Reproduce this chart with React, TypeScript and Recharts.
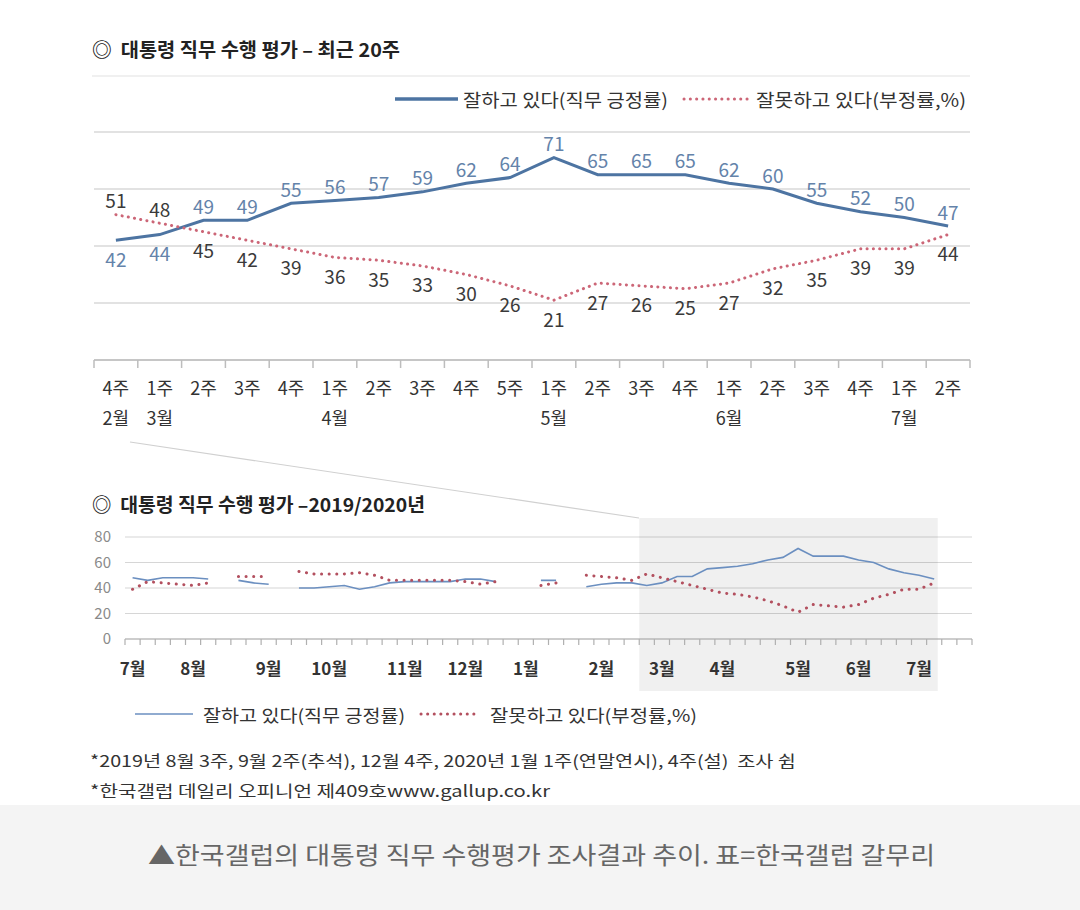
import * as React from 'react';
import {
	CartesianGrid,
	LabelList,
	Line,
	LineChart,
	ReferenceArea,
	XAxis,
	YAxis,
} from 'recharts';

const FONT = "'Noto Sans CJK KR', 'Noto Sans', sans-serif";

// 최근 20주: 2020년 2월 4주 ~ 7월 2주
const recentWeeks = ['4주', '1주', '2주', '3주', '4주', '1주', '2주', '3주', '4주', '5주', '1주', '2주', '3주', '4주', '1주', '2주', '3주', '4주', '1주', '2주'];
const recentMonths = ['2월', '3월', '', '', '', '4월', '', '', '', '', '5월', '', '', '', '6월', '', '', '', '7월', ''];
const approveRecent = [42, 44, 49, 49, 55, 56, 57, 59, 62, 64, 71, 65, 65, 65, 62, 60, 55, 52, 50, 47];
const disapproveRecent = [51, 48, 45, 42, 39, 36, 35, 33, 30, 26, 21, 27, 26, 25, 27, 32, 35, 39, 39, 44];

// 2019년 7월 1주 ~ 2020년 2월 3주, null = 조사 쉼
const approveEarlier = [48, 46, 48, 48, 48, 47, null, 46, 44, 43, null, 40, 40, 41, 42, 39, 41, 44, 45, 45, 45, 45, 47, 47, 45, null, null, 46, 46, null, 41, 43, 44, 44];
const disapproveEarlier = [39, 45, 44, 43, 42, 44, null, 49, 49, 49, null, 53, 51, 51, 51, 52, 50, 46, 46, 46, 46, 46, 45, 43, 45, null, null, 42, 44, null, 50, 49, 48, 46];

// 각 월 1주차의 주 번호
const monthStartWeek = [0, 4, 9, 13, 18, 22, 26, 31, 35, 39, 44, 48, 52];
const monthNames = ['7월', '8월', '9월', '10월', '11월', '12월', '1월', '2월', '3월', '4월', '5월', '6월', '7월'];
const yTicks = [0, 20, 40, 60, 80];

const BLUE = '#4d74a2';
const RED = '#cc6677';
const BLUE_THIN = '#6b8fc0';
const RED_DARK = '#b3505f';

const recentRows = approveRecent.map((v, i) => ({
	x: i + 0.5,
	approve: v,
	disapprove: disapproveRecent[i],
}));

const allApprove = [...approveEarlier, ...approveRecent];
const allDisapprove = [...disapproveEarlier, ...disapproveRecent];
const yearRows = allApprove.map((v, i) => ({
	x: i + 0.5,
	approve: v,
	disapprove: allDisapprove[i],
}));
const WEEKS = 56;

const recentTicks = [
	...Array.from({length: 21}, (_, i) => i),
	...recentWeeks.map((_, i) => i + 0.5),
];
const yearTicks = [
	...Array.from({length: WEEKS + 1}, (_, i) => i),
	...monthStartWeek.map((w) => w + 0.5),
];

function RecentTick({x, y, payload}: any) {
	const v = payload.value;
	if (Number.isInteger(v)) {
		return <line x1={x} x2={x} y1={y} y2={y + 8} stroke="#bdbdbd" strokeWidth={1.5}/>;
	}
	const i = Math.floor(v);
	return (
		<g fontFamily={FONT} fontSize={18} fill="#333" textAnchor="middle">
			<text x={x} y={y + 27} dominantBaseline="central">{recentWeeks[i]}</text>
			{recentMonths[i] ? (
				<text x={x} y={y + 57} dominantBaseline="central">{recentMonths[i]}</text>
			) : null}
		</g>
	);
}

function MonthTick({x, y, payload}: any) {
	const v = payload.value;
	if (Number.isInteger(v)) {
		return <line x1={x} x2={x} y1={y} y2={y + 6} stroke="#b0b0b0" strokeWidth={1.2}/>;
	}
	const k = monthStartWeek.indexOf(v - 0.5);
	return (
		<text x={x} y={y + 28} dominantBaseline="central" textAnchor="middle"
			fontFamily={FONT} fontSize={17} fontWeight={700} fill="#333">
			{monthNames[k]}
		</text>
	);
}

// higher series gets its value above the line, lower one below
function valueLabel(own: number[], other: number[], color: string) {
	return (props: any) => {
		const vb = props.viewBox || {};
		const x = props.x ?? vb.x;
		const y = props.y ?? vb.y;
		const i = props.index;
		const above = own[i] > other[i];
		return (
			<text x={x} y={above ? y - 15 : y + 18} dominantBaseline="central" textAnchor="middle"
				fontFamily={FONT} fontSize={19} fill={color}>
				{props.value}
			</text>
		);
	};
}

function ShadeShape(props: any) {
	const {x, y, width, height} = props;
	return <rect x={x} y={y - 19} width={width - 4} height={height + 71} fill="#000" fillOpacity={0.06}/>;
}

function Overlay() {
	const txt = {fontFamily: FONT, fill: '#333', dominantBaseline: 'central' as const, style: {whiteSpace: 'pre' as const}};
	return (
		<svg width={1080} height={910} style={{position: 'absolute', left: 0, top: 0}}>
			<rect x={0} y={805} width={1080} height={105} fill="#f4f4f4"/>
			<text {...txt} x={92} y={48} fontSize={19} fontWeight={700} fill="#222"
				textLength={308} lengthAdjust="spacingAndGlyphs">◎  대통령 직무 수행 평가 – 최근 20주</text>
			<line x1={92} x2={970} y1={76} y2={76} stroke="#e2e2e2" strokeWidth={1.2}/>

			<line x1={395} x2={458} y1={99} y2={99} stroke={BLUE} strokeWidth={3.5}/>
			<text {...txt} x={463} y={99} fontSize={18} textLength={205} lengthAdjust="spacingAndGlyphs">잘하고 있다(직무 긍정률)</text>
			<line x1={684} x2={748} y1={99} y2={99} stroke={RED} strokeWidth={3} strokeDasharray="0.1 6.2" strokeLinecap="round"/>
			<text {...txt} x={756} y={99} fontSize={18} textLength={210} lengthAdjust="spacingAndGlyphs">잘못하고 있다(부정률,%)</text>

			<line x1={130} y1={442} x2={639} y2={518} stroke="#d0d0d0" strokeWidth={1.2}/>

			<text {...txt} x={92} y={503} fontSize={19} fontWeight={700} fill="#222"
				textLength={333} lengthAdjust="spacingAndGlyphs">◎  대통령 직무 수행 평가 –2019/2020년</text>

			<line x1={135} x2={193} y1={714} y2={714} stroke={BLUE_THIN} strokeWidth={1.6}/>
			<text {...txt} x={203} y={714} fontSize={17} textLength={202} lengthAdjust="spacingAndGlyphs">잘하고 있다(직무 긍정률)</text>
			<line x1={421} x2={480} y1={714} y2={714} stroke={RED_DARK} strokeWidth={3} strokeDasharray="0.1 6.5" strokeLinecap="round"/>
			<text {...txt} x={490} y={714} fontSize={17} textLength={207} lengthAdjust="spacingAndGlyphs">잘못하고 있다(부정률,%)</text>

			<text {...txt} x={90} y={760} fontSize={16} textLength={706} lengthAdjust="spacingAndGlyphs">*2019년 8월 3주, 9월 2주(추석), 12월 4주, 2020년 1월 1주(연말연시), 4주(설)  조사 쉼</text>
			<text {...txt} x={90} y={790} fontSize={16} textLength={460} lengthAdjust="spacingAndGlyphs">*한국갤럽 데일리 오피니언 제409호www.gallup.co.kr</text>

			<text {...txt} x={148} y={853} fontSize={24} fill="#666" textLength={787} lengthAdjust="spacingAndGlyphs">▲한국갤럽의 대통령 직무 수행평가 조사결과 추이. 표=한국갤럽 갈무리</text>
		</svg>
	);
}

function RecentChart() {
	return (
		<LineChart width={1080} height={450} data={recentRows}
			margin={{top: 132, right: 110, bottom: 0, left: 94}}>
			<CartesianGrid vertical={false} stroke="#d8d8d8" strokeWidth={1.3}/>
			<YAxis hide domain={[0, 80]} ticks={yTicks}/>
			<XAxis type="number" dataKey="x" domain={[0, 20]} ticks={recentTicks} interval={0}
				height={90} tickSize={0} tickMargin={0} tickLine={false}
				axisLine={{stroke: '#bdbdbd', strokeWidth: 1.5}} tick={<RecentTick/>}/>
			<Line dataKey="approve" stroke={BLUE} strokeWidth={3} dot={false} isAnimationActive={false}>
				<LabelList dataKey="approve" content={valueLabel(approveRecent, disapproveRecent, '#6483aa')}/>
			</Line>
			<Line dataKey="disapprove" stroke={RED} strokeWidth={3} strokeDasharray="0.1 6.2"
				strokeLinecap="round" dot={false} isAnimationActive={false}>
				<LabelList dataKey="disapprove" content={valueLabel(disapproveRecent, approveRecent, '#3a3a3a')}/>
			</Line>
		</LineChart>
	);
}

function YearChart() {
	return (
		<LineChart width={1080} height={250} data={yearRows}
			margin={{top: 77, right: 108, bottom: 0, left: 0}}>
			<ReferenceArea x1={34} x2={WEEKS - 2} shape={<ShadeShape/>}/>
			<CartesianGrid vertical={false} stroke="#d6d6d6" strokeWidth={1.2}/>
			<YAxis domain={[0, 80]} ticks={yTicks} width={125} axisLine={false} tickLine={false}
				tickSize={0} tickMargin={14}
				tick={{fontFamily: FONT, fontSize: 15, fill: '#8a8a8a'}}/>
			<XAxis type="number" dataKey="x" domain={[0, WEEKS]} ticks={yearTicks} interval={0}
				height={71} tickSize={0} tickMargin={0} tickLine={false}
				axisLine={{stroke: '#b0b0b0', strokeWidth: 1.2}} tick={<MonthTick/>}/>
			<Line dataKey="approve" stroke={BLUE_THIN} strokeWidth={1.6} dot={false} isAnimationActive={false}/>
			<Line dataKey="disapprove" stroke={RED_DARK} strokeWidth={3} strokeDasharray="0.1 7.5"
				strokeLinecap="round" dot={false} isAnimationActive={false}/>
		</LineChart>
	);
}

export default
function App() {
	return (
		<div style={{position: 'absolute', left: 0, top: 0, width: 1080, height: 910, background: '#fff', overflow: 'hidden'}}>
			<Overlay/>
			<div style={{position: 'absolute', left: 0, top: 0}}>
				<RecentChart/>
			</div>
			<div style={{position: 'absolute', left: 0, top: 460}}>
				<YearChart/>
			</div>
		</div>
	);
}
